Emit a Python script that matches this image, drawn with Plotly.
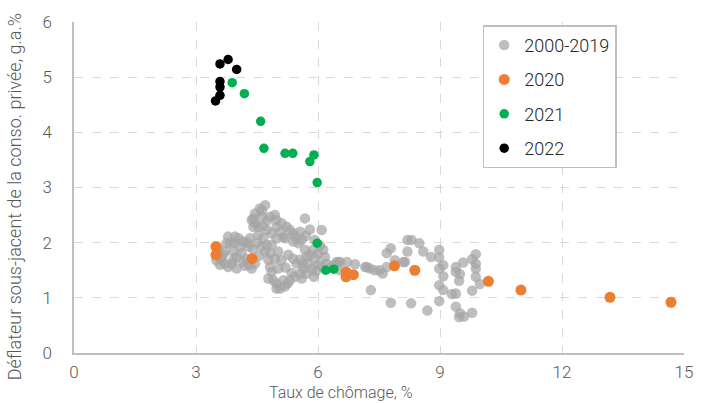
import plotly.graph_objects as go

# --- Data ---
un_2000_2019 = [7.52, 7.59, 7.69, 7.79, 7.89, 8.10, 8.20, 8.30, 8.49, 8.59, 8.78, 8.98, 8.98, 9.08, 9.08,
                8.98, 8.98, 9.08, 9.29, 9.39, 9.47, 9.49, 9.39, 9.39, 9.57, 9.79, 9.88, 9.88, 9.88, 9.88,
                9.98, 9.79, 7.79, 8.29, 8.69, 8.98, 9.39, 9.49, 9.47, 9.59, 9.79, 8.20, 7.69, 6.54, 6.71,
                6.91, 7.20, 7.30, 6.46, 8.14,
                4.70, 4.57, 4.45, 4.41, 4.45, 4.53, 4.61, 4.74, 4.86, 4.98, 4.98, 5.07, 5.23, 5.39, 5.56,
                5.52, 5.68, 5.80, 6.09, 5.60, 5.39, 5.19, 4.98, 4.65, 4.53, 4.33, 4.16, 3.96, 3.79, 3.75,
                3.71, 3.63, 3.59, 3.79, 4.00, 3.92, 3.92, 4.12, 4.16, 4.37, 4.08, 4.29, 4.61, 4.70, 4.82,
                4.94, 4.78, 4.82, 4.86, 4.78, 5.02, 4.98, 4.98, 5.07, 5.19, 5.31, 5.43, 5.56, 5.64, 5.76,
                5.72, 5.68, 5.88, 5.93, 6.01, 5.85, 5.72, 6.17, 6.13, 6.09, 6.21, 6.50, 6.54, 7.16, 7.28,
                3.59, 3.71, 4.00, 4.25, 4.74, 4.86, 5.02, 5.27, 5.39, 5.47, 5.56, 4.90, 5.15, 4.41, 4.37,
                4.82, 4.94, 5.11, 5.31, 3.84,
                3.67, 3.88, 4.20, 4.45, 4.55, 4.40, 3.95, 4.05, 4.25, 4.50, 4.65, 4.75, 4.62, 5.15, 5.45,
                5.70, 5.92, 6.05, 6.00, 5.80, 5.62, 5.95, 5.90, 5.60, 5.25, 5.35, 5.20, 5.10, 6.30, 6.40,
                7.40, 4.30, 3.55, 3.50, 3.55]
defl_2000_2019 = [1.50, 1.44, 1.81, 1.90, 1.68, 1.65, 2.05, 2.05, 1.99, 1.84, 1.74, 1.87, 1.73, 1.59, 1.39,
                  1.53, 1.23, 1.14, 1.07, 1.08, 1.31, 1.43, 1.56, 1.47, 1.64, 1.70, 1.79, 1.62, 1.53, 1.38,
                  1.25, 1.13, 0.91, 0.90, 0.77, 0.94, 0.84, 0.72, 0.65, 0.66, 0.73, 1.84, 1.56, 1.65, 1.65,
                  1.61, 1.56, 1.14, 1.65, 1.65,
                  2.68, 2.62, 2.53, 2.44, 2.35, 2.29, 2.47, 2.23, 2.17, 2.41, 2.29, 2.20, 2.29, 2.17, 2.20,
                  1.99, 2.44, 2.24, 2.23, 2.05, 2.02, 2.08, 2.08, 2.08, 2.14, 2.08, 2.02, 2.11, 2.11, 1.99,
                  1.84, 1.69, 1.60, 1.56, 1.53, 1.69, 1.84, 1.81, 1.65, 1.53, 1.93, 1.93, 1.93, 1.84, 1.81,
                  1.71, 1.69, 1.56, 1.47, 1.35, 1.53, 1.26, 1.17, 1.17, 1.21, 1.32, 1.38, 1.44, 1.53, 1.62,
                  1.74, 1.87, 1.87, 1.71, 1.60, 1.53, 1.44, 1.74, 1.87, 1.56, 1.62, 1.65, 1.50, 1.56, 1.53,
                  1.71, 1.62, 1.74, 1.71, 1.96, 1.96, 1.84, 1.78, 1.71, 1.62, 1.69, 1.32, 1.32, 2.29, 2.41,
                  2.47, 2.50, 2.35, 2.23, 1.99,
                  1.78, 1.62, 1.58, 1.62, 1.76, 1.88, 2.00, 2.08, 2.00, 2.00, 2.30, 2.40, 2.58, 2.10, 2.10,
                  2.12, 2.05, 1.95, 1.80, 1.78, 1.62, 1.48, 1.38, 1.35, 1.26, 1.45, 1.55, 1.68, 1.55, 1.60,
                  1.50, 1.60, 1.90, 1.68, 1.80]

un_2020 = [3.49, 3.49, 4.38, 14.68, 13.18, 10.99, 10.19, 8.38, 7.88, 6.87, 6.69, 6.69]
defl_2020 = [1.93, 1.78, 1.71, 0.92, 1.01, 1.14, 1.30, 1.50, 1.58, 1.42, 1.38, 1.47]

un_2021 = [6.39, 6.19, 5.98, 5.98, 5.80, 5.90, 5.38, 5.19, 4.67, 4.59, 4.19, 3.89]
defl_2021 = [1.52, 1.50, 1.99, 3.09, 3.47, 3.59, 3.62, 3.62, 3.71, 4.20, 4.70, 4.90]

un_2022 = [4.00, 3.79, 3.59, 3.59, 3.59, 3.59, 3.48]
defl_2022 = [5.14, 5.32, 5.24, 4.92, 4.82, 4.67, 4.57]

x_ticks = [0, 3, 6, 9, 12, 15]
y_ticks = [0, 1, 2, 3, 4, 5, 6]

FONT = "Roboto, sans-serif"

fig = go.Figure()
fig.add_trace(go.Scatter(x=un_2000_2019, y=defl_2000_2019, mode="markers", name="2000-2019",
                         legendgroup="a",
                         marker=dict(color="rgba(165,165,165,0.72)", size=10.5, line=dict(width=0))))
fig.add_trace(go.Scatter(x=un_2020, y=defl_2020, mode="markers", name="2020", legendgroup="b",
                         marker=dict(color="#ED7D31", size=11, line=dict(width=0))))
fig.add_trace(go.Scatter(x=un_2021, y=defl_2021, mode="markers", name="2021", legendgroup="c",
                         marker=dict(color="#00B050", size=9.5, line=dict(width=0))))
fig.add_trace(go.Scatter(x=un_2022, y=defl_2022, mode="markers", name="2022", legendgroup="d",
                         marker=dict(color="#000000", size=9.5, line=dict(width=0))))

fig.update_layout(
    width=707, height=403,
    margin=dict(l=74, r=23, t=22, b=50),
    paper_bgcolor="white", plot_bgcolor="white",
    font=dict(family=FONT, size=17, color="#595959", weight=300),
    showlegend=True,
    legend=dict(x=0.670, y=0.99, xanchor="left", yanchor="top",
                bgcolor="white", bordercolor="#bfbfbf", borderwidth=1.5,
                font=dict(family=FONT, size=18, color="#262626", weight=300), tracegroupgap=8,
                itemsizing="trace"),
    annotations=[
        dict(text="Déflateur sous-jacent de la conso. privée, g.a.%",
             textangle=-90, xref="paper", yref="paper", x=-0.098, y=0.471,
             xanchor="center", yanchor="middle", showarrow=False,
             font=dict(family=FONT, size=18, color="#595959", weight=300)),
        dict(text="Taux de chômage, %", xref="paper", yref="paper", x=0.437, y=-0.118,
             xanchor="center", yanchor="middle", showarrow=False,
             font=dict(family=FONT, size=16, color="#595959", weight=300)),
    ],
)
fig.update_xaxes(range=[0, 15], tickvals=x_ticks, showgrid=True, gridcolor="#d9d9d9",
                 griddash="dash", gridwidth=1, showline=True, linecolor="#bfbfbf", linewidth=1.5,
                 zeroline=False, ticks="", ticklabelstandoff=3, automargin=False)
fig.update_yaxes(range=[0, 6], tickvals=y_ticks, showgrid=True, gridcolor="#d9d9d9",
                 griddash="dash", gridwidth=1, showline=True, linecolor="#bfbfbf", linewidth=1.5,
                 zeroline=False, ticks="", ticklabelstandoff=17, automargin=False)

fig.write_html("out.html", config={"displayModeBar": False},
               post_script="document.body.style.margin='0px';")
